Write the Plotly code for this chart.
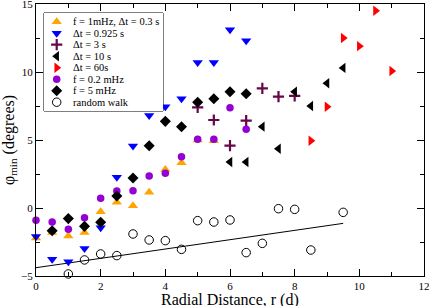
import plotly.graph_objects as go

# ---- data ----
r_f1 = [0, 0.5, 1, 1.5, 2, 2.5, 3, 3.5, 4, 4.5, 5, 5.5]
phi_f1 = [-2.2, -1.8, -2.05, -1.8, -0.27, 0.42, 0.17, 1.15, 2.84, 3.33, 5.0, 4.95]

r_dt0925 = [0, 0.5, 1, 1.5, 2, 2.5, 3, 3.5, 4, 4.5, 5, 5.5, 6, 6.5]
phi_dt0925 = [-2.1, -3.77, -3.95, -2.97, -1.45, 2.26, 4.56, 6.8, 7.45, 8.03, 10.7, 10.7, 13.1, 12.3]

r_dt3 = [5, 5.5, 6, 6.5, 7, 7.5, 8]
phi_dt3 = [7.4, 6.47, 4.58, 6.42, 8.8, 8.19, 8.25]

r_dt10 = [6, 6.5, 7, 7.5, 8, 8.5, 9, 9.5]
phi_dt10 = [3.38, 3.38, 5.98, 4.36, 8.55, 7.5, 9.17, 10.3]

r_dt60 = [8.5, 9, 9.5, 10, 10.5, 11]
phi_dt60 = [4.95, 7.45, 12.5, 11.9, 14.5, 10.07]

r_f02 = [0, 0.5, 1, 1.5, 2, 2.5, 3, 3.5, 4, 4.5, 5, 5.5, 6, 6.5]
phi_f02 = [-0.9, -1.03, -1.57, -0.71, 0.71, 1.25, 1.27, 2.35, 2.55, 3.77, 5.05, 5.05, 7.38, 5.79]

r_f5 = [0.5, 1, 1.5, 2, 2.5, 3, 3.5, 4, 4.5, 5, 5.5, 6, 6.5]
phi_f5 = [-1.67, -0.78, -1.35, -1.05, 0.88, 2.2, 4.58, 6.37, 5.98, 7.77, 8.03, 8.55, 8.4]

r_rw = [1, 1.5, 2, 2.5, 3, 3.5, 4, 4.5, 5, 5.5, 6, 6.5, 7, 7.5, 8, 8.5, 9.5]
phi_rw = [-4.85, -3.82, -3.38, -3.5, -1.91, -2.35, -2.4, -3.04, -0.93, -1.03, -0.88,
          -3.28, -2.6, -0.05, -0.1, -3.09, -0.32]

r_fit = [0, 9.5]
phi_fit = [-4.39, -1.13]

labels = ["f = 1mHz, \u0394t = 0.3 s", "\u0394t = 0.925 s", "\u0394t = 3 s", "\u0394t = 10 s",
          "\u0394t = 60s", "f = 0.2 mHz", "f = 5 mHz", "random walk"]

x_ticks = [0, 2, 4, 6, 8, 10, 12]
y_ticks = [-5, 0, 5, 10, 15]

# ---- styles ----
SERIF = "Liberation Serif"
ORANGE = "#FFA500"
BLUE = "#0000FF"
MAROON = "#670748"
RED = "#FF0000"
VIOLET = "#9400D3"

styles = [
    dict(symbol="triangle-up", color=ORANGE, size=9),
    dict(symbol="triangle-down", color=BLUE, size=9),
    dict(symbol="cross-thin", color=MAROON, size=8, line=dict(color=MAROON, width=2.2)),
    dict(symbol="triangle-left", color="black", size=9),
    dict(symbol="triangle-right", color=RED, size=9),
    dict(symbol="circle", color=VIOLET, size=7.5),
    dict(symbol="diamond", color="black", size=8.5),
    dict(symbol="circle-open", color="black", size=8.5, line=dict(color="black", width=1)),
]
series = [(r_f1, phi_f1), (r_dt0925, phi_dt0925), (r_dt3, phi_dt3), (r_dt10, phi_dt10),
          (r_dt60, phi_dt60), (r_f02, phi_f02), (r_f5, phi_f5), (r_rw, phi_rw)]

fig = go.Figure()

fig.add_trace(go.Scatter(x=r_fit, y=phi_fit, mode="lines",
                         line=dict(color="black", width=1), showlegend=False))

for (xs, ys), st, lab in zip(series, styles, labels):
    fig.add_trace(go.Scatter(x=xs, y=ys, mode="markers", marker=st, name=lab,
                             showlegend=False, cliponaxis=False))

# ---- custom compact legend (overlay axes spanning the legend box) ----
W, H = 429, 306
ml, mr, mt, mb = 36, 5, 4, 30
pw, ph = W - ml - mr, H - mt - mb
box_l, box_r, box_t, box_b = 44, 163, 13, 111
lx0 = (box_l - ml) / pw
lx1 = (box_r - ml) / pw
ly1 = 1 - (box_t - mt) / ph
ly0 = 1 - (box_b - mt) / ph
box_h = box_b - box_t
row_gap = 11.5
first_row = 8.7
sym_x = (56.7 - box_l) / (box_r - box_l)
txt_x = (70.5 - box_l) / (box_r - box_l)

fig.add_shape(type="rect", xref="paper", yref="paper", x0=lx0, x1=lx1, y0=ly0, y1=ly1,
              line=dict(color="black", width=1), fillcolor="white", layer="below")

for i, (st, lab) in enumerate(zip(styles, labels)):
    yy = 1 - (first_row + row_gap * i) / box_h
    fig.add_trace(go.Scatter(x=[sym_x], y=[yy], mode="markers", marker=st,
                             xaxis="x2", yaxis="y2", showlegend=False, hoverinfo="skip",
                             cliponaxis=False))
    fig.add_annotation(x=txt_x, y=yy, xref="x2", yref="y2", text=lab, showarrow=False,
                       xanchor="left", yanchor="middle",
                       font=dict(family=SERIF, size=10.5, color="black"))

# x-axis title placed as an annotation (centre about 300 px down the page)
fig.add_annotation(x=0.5, y=-(300 - (H - mb)) / ph, xref="paper", yref="paper",
                   text="Radial Distance, r (d)", showarrow=False,
                   xanchor="center", yanchor="middle",
                   font=dict(family=SERIF, size=16, color="black"))

axis_common = dict(ticks="inside", ticklen=7, tickwidth=1, tickcolor="black",
                   showline=True, linecolor="black", linewidth=1, mirror="allticks",
                   showgrid=False, zeroline=False, automargin=False,
                   ticklabeloverflow="allow",
                   tickfont=dict(family=SERIF, size=11, color="black"))

fig.update_layout(
    width=W, height=H,
    margin=dict(l=ml, r=mr, t=mt, b=mb),
    paper_bgcolor="white", plot_bgcolor="white",
    showlegend=False,
    font=dict(family=SERIF, color="black"),
    xaxis=dict(range=[0, 12], tickvals=x_ticks,
               minor=dict(dtick=1, ticks="inside", ticklen=4, tickcolor="black"),
               **axis_common),
    yaxis=dict(range=[-5, 15], tickvals=y_ticks,
               minor=dict(dtick=2.5, ticks="inside", ticklen=4, tickcolor="black"),
               title=dict(text="\u03c6<sub>min</sub> (degrees)", standoff=2,
                          font=dict(family=SERIF, size=16, color="black")),
               **axis_common),
    xaxis2=dict(domain=[lx0, lx1], range=[0, 1], visible=False, anchor="y2", fixedrange=True),
    yaxis2=dict(domain=[ly0, ly1], range=[0, 1], visible=False, anchor="x2", fixedrange=True),
)

fig.write_html("out.html", config={"displayModeBar": False},
               post_script="document.body.style.margin='0';document.body.style.padding='0';")
